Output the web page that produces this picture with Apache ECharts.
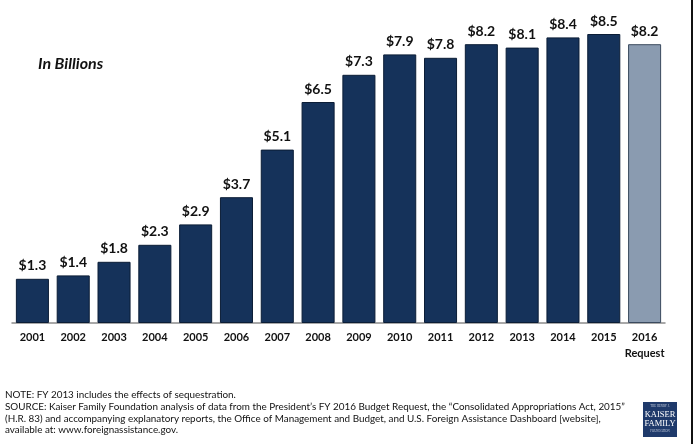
<!DOCTYPE html>
<html><head><meta charset="utf-8">
<script src="https://cdn.jsdelivr.net/npm/echarts@6/dist/echarts.min.js"></script>
<style>html,body{margin:0;padding:0;background:#fff}#c{width:694px;height:444px}</style>
</head><body><div id="c"></div>
<script>
const categories = ['2001','2002','2003','2004','2005','2006','2007','2008','2009','2010','2011','2012','2013','2014','2015','2016\nRequest'];
const values = [1.3,1.4,1.8,2.3,2.9,3.7,5.1,6.5,7.3,7.9,7.8,8.2,8.1,8.4,8.5,8.2];
const requestIndex = 15;
const notes = [
  'NOTE: FY 2013 includes the effects of sequestration.',
  'SOURCE: Kaiser Family Foundation analysis of data from the President\u2019s FY 2016 Budget Request, the \u201cConsolidated Appropriations Act, 2015\u201d',
  '(H.R. 83) and accompanying explanatory reports, the Office of Management and Budget, and U.S. Foreign Assistance Dashboard [website],',
  'available at: www.foreignassistance.gov.'
];
const chart = echarts.init(document.getElementById('c'), null, {renderer:'canvas'});
chart.setOption({
  animation:false,
  backgroundColor:'#fff',
  grid:{left:12, right:29, top:17, bottom:121},
  xAxis:{type:'category', data:categories,
    axisLine:{lineStyle:{color:'#8c8c8c', width:1.5}}, axisTick:{show:false},
    axisLabel:{interval:0, fontFamily:'Lato', fontWeight:'bold', fontSize:11, color:'#111', margin:6, lineHeight:16}},
  yAxis:{type:'value', min:0, max:9, show:false},
  series:[{type:'bar', barCategoryGap:'19%',
    data: values.map((v,i)=>({value:v, itemStyle: i===requestIndex ? {color:'#8a9bb0', borderColor:'#3a4a5e', borderWidth:1} : {color:'#15325a', borderColor:'#0b1d36', borderWidth:1}})),
    label:{show:true, position:'top', distance:6, fontFamily:'Lato', fontWeight:'bold', fontSize:14, color:'#111',
      formatter:p=>'$'+p.value.toFixed(1)}
  }],
  graphic:[
    {type:'text', left:38, top:56, style:{text:'In Billions', font:'italic bold 16px Lato', fill:'#111'}},
    {type:'text', left:5, top:389, style:{text:notes.join('\n'), font:'9.9px Lato', lineHeight:11.8, fill:'#111'}},
    {type:'rect', shape:{x:643, y:402, width:34, height:35}, style:{fill:'#1f3a6b'}},
    {type:'text', x:660, y:405, style:{text:'THE HENRY J.', font:'3px serif', fill:'#c8d0e0', align:'center'}},
    {type:'text', x:660, y:410, style:{text:'KAISER\nFAMILY', font:'8.5px "Liberation Serif"', lineHeight:9, fill:'#fff', align:'center'}},
    {type:'text', x:660, y:430, style:{text:'FOUNDATION', font:'3px serif', fill:'#c8d0e0', align:'center'}},
    {type:'rect', shape:{x:691, y:0, width:2, height:444}, style:{fill:'#111'}}
  ]
});
</script></body></html>
